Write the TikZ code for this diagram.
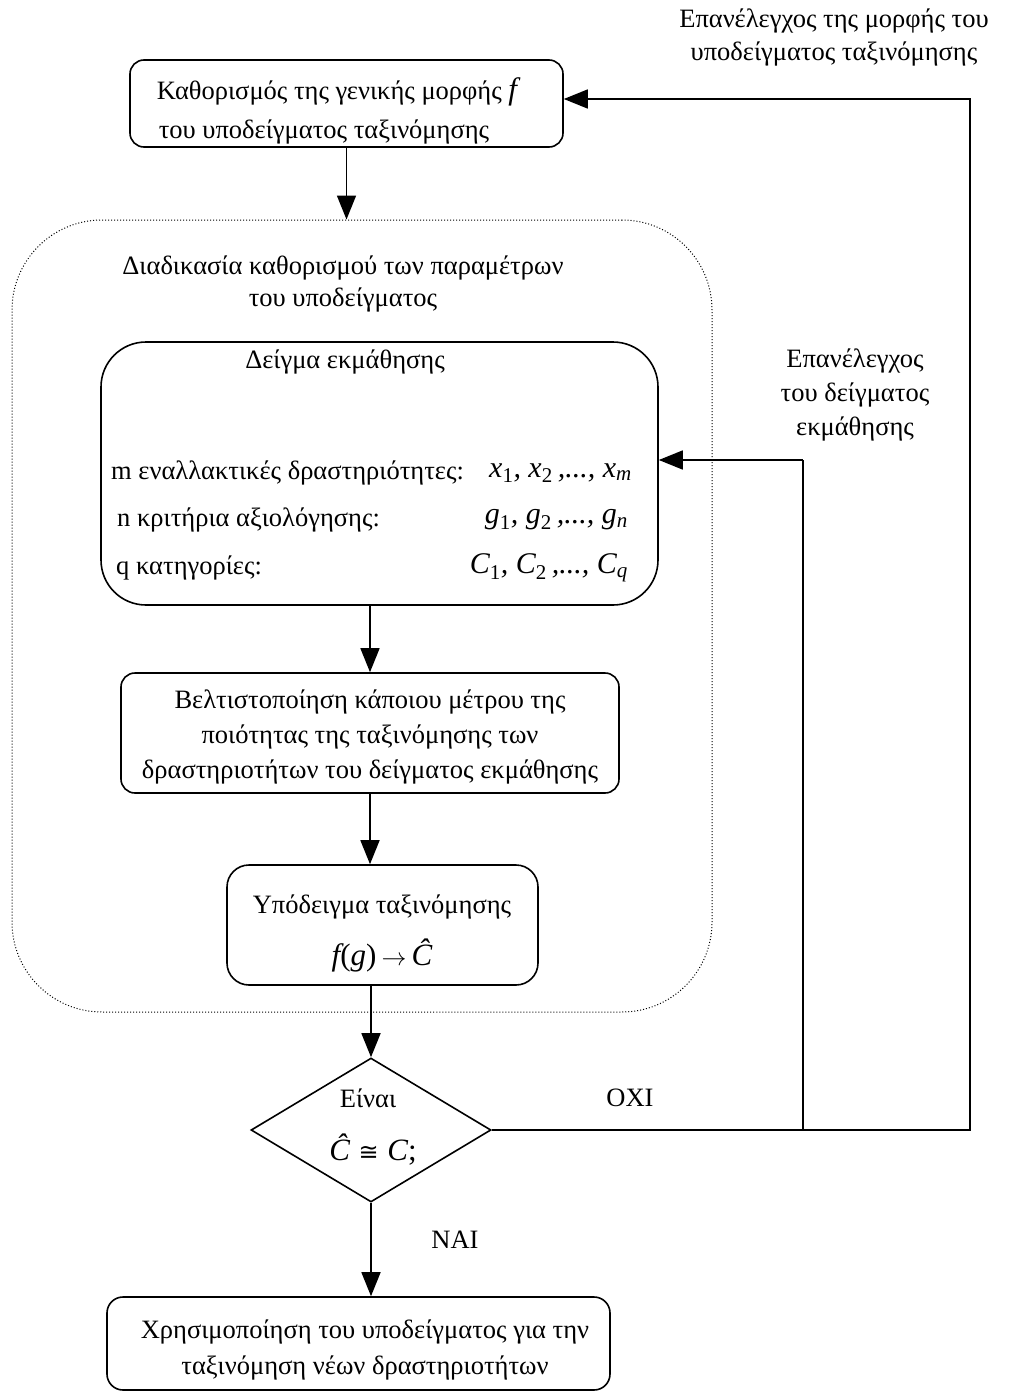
\documentclass[tikz,border=0pt]{standalone}
\usepackage{fontspec}
\setmainfont{Liberation Serif}
\newfontfamily\symfnt{DejaVu Sans}
\usetikzlibrary{shapes.geometric,arrows.meta}
\begin{document}
\begin{tikzpicture}[x=1pt,y=-1pt,
  every node/.style={font=\fontsize{26.5}{36}\selectfont},
  box/.style={draw,line width=1.6pt,rounded corners=14pt,inner sep=0pt},
  conn/.style={line width=1.6pt},
  arr/.style={conn,-{Triangle[length=24pt,width=19pt]}},
  lbl/.style={align=center,inner sep=0pt},
  math/.style={inner sep=0pt,font=\fontsize{30}{34}\selectfont\itshape},
  mathup/.style={inner sep=0pt,font=\fontsize{31}{34}\selectfont}]
\useasboundingbox (0,0) rectangle (1009,1392);

% boxes
\node[box,minimum width=433pt,minimum height=87pt] (top) at (346.5,103.5) {};
\node[draw,dotted,line width=1pt,rounded corners=90pt,minimum width=700pt,minimum height=792pt,inner sep=0pt] (proc) at (362,616) {};
\node[box,rounded corners=45pt,minimum width=557pt,minimum height=263pt] (learn) at (379.5,473.5) {};
\node[box,minimum width=498pt,minimum height=120pt] (opt) at (370,733) {};
\node[box,rounded corners=22pt,minimum width=311pt,minimum height=120pt] (model) at (382.5,925) {};
\node[draw,diamond,line width=1.6pt,minimum width=240pt,minimum height=144pt,inner sep=0pt] (dec) at (371,1130) {};
\node[box,rounded corners=16pt,minimum width=503pt,minimum height=93pt] (final) at (358.5,1343.5) {};

% texts
\node[lbl] (t1a) at (337,92) {Καθορισμός της γενικής μορφής {\fontsize{31}{31}\selectfont\itshape f}};
\node[lbl] (t1b) at (324,132) {του υποδείγματος ταξινόμησης};
\node[lbl,font=\fontsize{26.5}{32}\selectfont] (tp) at (343,284) {Διαδικασία καθορισμού των παραμέτρων\\του υποδείγματος};
\node[lbl] (tl) at (345,362) {Δείγμα εκμάθησης};
\node[inner sep=0pt,anchor=west] (lm) at (111,473) {m εναλλακτικές δραστηριότητες:};
\node[inner sep=0pt,anchor=west] (ln) at (117,520) {n κριτήρια αξιολόγησης:};
\node[inner sep=0pt,anchor=west] (lq) at (116,568) {q κατηγορίες:};
\node[math,anchor=east] (mx) at (632,473) {x\textsubscript{\upshape 1}, x\textsubscript{\upshape 2}\,,..., x\textsubscript{m}};
\node[math,anchor=east] (mg) at (628,520) {g\textsubscript{\upshape 1}, g\textsubscript{\upshape 2}\,,..., g\textsubscript{n}};
\node[math,anchor=east] (mc) at (628,568) {C\textsubscript{\upshape 1}, C\textsubscript{\upshape 2}\,,..., C\textsubscript{q}};
\node[lbl,font=\fontsize{26.5}{35}\selectfont] (to) at (370,737) {Βελτιστοποίηση κάποιου μέτρου της\\ποιότητας της ταξινόμησης των\\δραστηριοτήτων του δείγματος εκμάθησης};
\node[lbl] (tm) at (382,907) {Υπόδειγμα ταξινόμησης};
\node[mathup] (fm) at (382,955) {{\itshape f}(\textit{g})\,$\rightarrow$\,{\itshape Ĉ}};
\node[lbl] (td) at (368,1098) {Είναι};
\node[mathup] (fd) at (373,1150) {{\itshape Ĉ}\;{\symfnt\fontsize{24}{30}\selectfont ≅}\;{\itshape C};};
\node[lbl] (tf) at (365,1350) {Χρησιμοποίηση του υποδείγματος για την\\ταξινόμηση νέων δραστηριοτήτων};
\node[lbl] (no) at (630,1098) {ΟΧΙ};
\node[lbl] (yes) at (455,1240) {ΝΑΙ};
\node[lbl,font=\fontsize{26.5}{34}\selectfont] (rb1) at (855,395) {Επανέλεγχος\\του δείγματος\\εκμάθησης};
\node[lbl,font=\fontsize{26.5}{33}\selectfont] (rb2) at (834,37) {Επανέλεγχος της μορφής του\\υποδείγματος ταξινόμησης};

% connectors
\coordinate (c1) at (970,1130);
\coordinate (c2) at (970,99);
\coordinate (c3) at (803,1130);
\coordinate (c4) at (803,460);
\draw[arr] (top.south) -- (top.south |- proc.north);
\draw[arr] (learn.south -| opt.north) -- (opt.north);
\draw[arr] (opt.south) -- (opt.south |- model.north);
\draw[arr] (dec.north |- model.south) -- (dec.north);
\draw[arr] (dec.south) -- (dec.south |- final.north);
\draw[arr] (dec.east) -- (c1) -- (c2) -- (c2 -| top.east);
\draw[arr] (c4) -- (c4 -| learn.east);
\draw[conn] (c3) -- (c4);
\end{tikzpicture}
\end{document}
